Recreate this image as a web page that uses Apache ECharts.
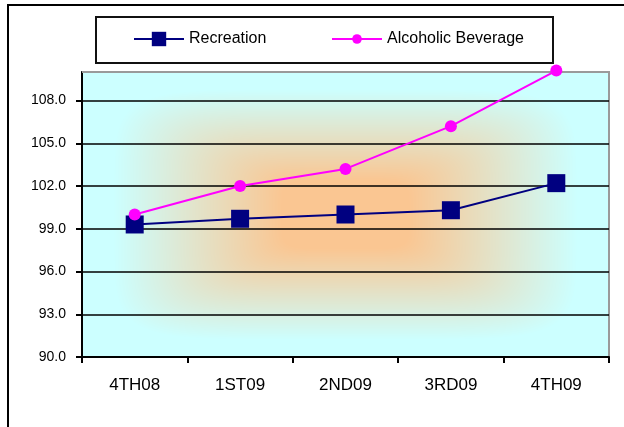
<!DOCTYPE html>
<html>
<head>
<meta charset="utf-8">
<script src="https://cdn.jsdelivr.net/npm/echarts@6/dist/echarts.min.js"></script>
<style>
  html, body { margin: 0; padding: 0; background: #fff; }
  #chart { width: 624px; height: 427px; }
</style>
</head>
<body>
<div id="chart"></div>
<script>
// Quarterly index values
const quarters = ['4TH08', '1ST09', '2ND09', '3RD09', '4TH09'];
const recreation = [99.3, 99.7, 100.0, 100.3, 102.2];
const alcoholicBeverage = [100.0, 102.0, 103.2, 106.2, 110.1];

// Value axis range and step
const yMin = 90;
const yMax = 110;
const yStep = 3;

const FONT = '"Liberation Sans", Arial, sans-serif';
const plot = { left: 82, top: 72, right: 609, bottom: 357 };
const plotW = plot.right - plot.left;
const plotH = plot.bottom - plot.top;

// "From centre" fill: peach in the middle fading to pale cyan at the edges
function centreShade(w, h) {
  const cv = document.createElement('canvas');
  cv.width = w; cv.height = h;
  const ctx = cv.getContext('2d');
  const img = ctx.createImageData(w, h);
  const inner = [250, 198, 146];
  const outer = [204, 255, 255];
  const hw = w / 2, hh = h / 2;
  const p = 6;
  for (let y = 0; y < h; y++) {
    for (let x = 0; x < w; x++) {
      const dx = Math.abs(x + 0.5 - hw) / hw;
      const dy = Math.abs(y + 0.5 - hh) / hh;
      const t = Math.pow(Math.pow(dx, p) + Math.pow(dy, p), 1 / p);
      const s = Math.min(1, Math.max(0, (t - 0.24) / 0.64));
      const i = (y * w + x) * 4;
      img.data[i] = inner[0] + (outer[0] - inner[0]) * s;
      img.data[i + 1] = inner[1] + (outer[1] - inner[1]) * s;
      img.data[i + 2] = inner[2] + (outer[2] - inner[2]) * s;
      img.data[i + 3] = 255;
    }
  }
  ctx.putImageData(img, 0, 0);
  return cv;
}

const chart = echarts.init(document.getElementById('chart'), null, { renderer: 'canvas' });

const legendText = { color: '#000', fontFamily: FONT, fontSize: 16 };

chart.setOption({
  backgroundColor: '#fff',
  animation: false,
  grid: {
    left: plot.left, top: plot.top,
    width: plotW, height: plotH,
    show: true,
    backgroundColor: 'transparent',
    borderColor: '#9a9a9a',
    borderWidth: 2
  },
  legend: [
    {
      data: ['Recreation'],
      left: 133, top: 31, padding: 0,
      itemWidth: 50, itemHeight: 18,
      textStyle: legendText
    },
    {
      data: ['Alcoholic Beverage'],
      left: 331, top: 31, padding: 0,
      itemWidth: 50, itemHeight: 12,
      textStyle: legendText
    }
  ],
  xAxis: {
    type: 'category',
    data: quarters,
    boundaryGap: true,
    axisLine: { lineStyle: { color: '#000', width: 2 } },
    axisTick: { show: true, length: 6, lineStyle: { color: '#000', width: 2 } },
    axisLabel: { color: '#000', fontFamily: FONT, fontSize: 17, margin: 20 },
    splitLine: { show: false }
  },
  yAxis: {
    type: 'value',
    min: yMin, max: yMax, interval: yStep,
    axisLine: { show: true, lineStyle: { color: '#000', width: 2 } },
    axisTick: { show: true, length: 6, lineStyle: { color: '#000', width: 2 } },
    axisLabel: {
      color: '#000', fontFamily: FONT, fontSize: 14, margin: 16,
      showMaxLabel: false,
      formatter: v => v.toFixed(1)
    },
    splitLine: { show: true, lineStyle: { color: '#000', width: 1.6 } }
  },
  series: [
    {
      name: 'Recreation',
      type: 'line',
      data: recreation,
      symbol: 'rect',
      symbolSize: 18,
      clip: false,
      itemStyle: { color: '#000080' },
      lineStyle: { color: '#000080', width: 2 },
      z: 3
    },
    {
      name: 'Alcoholic Beverage',
      type: 'line',
      data: alcoholicBeverage,
      symbol: 'circle',
      symbolSize: 12,
      clip: false,
      itemStyle: { color: '#ff00ff' },
      lineStyle: { color: '#ff00ff', width: 2 },
      z: 4
    }
  ],
  graphic: [
    {
      type: 'image', z: -1,
      x: plot.left, y: plot.top,
      style: { image: centreShade(plotW, plotH), width: plotW, height: plotH }
    },
    {
      type: 'line', z: 1,
      shape: { x1: plot.left, y1: plot.top, x2: plot.right, y2: plot.top },
      style: { stroke: '#9a9a9a', lineWidth: 2 }
    },
    {
      type: 'rect', z: 1,
      shape: { x: 96, y: 17, width: 457, height: 46 },
      style: { fill: '#fff', stroke: '#111', lineWidth: 2 }
    },
    {
      type: 'rect', z: 1,
      shape: { x: 8, y: 5, width: 700, height: 500 },
      style: { fill: 'none', stroke: '#000', lineWidth: 2 }
    }
  ]
});
</script>
</body>
</html>
